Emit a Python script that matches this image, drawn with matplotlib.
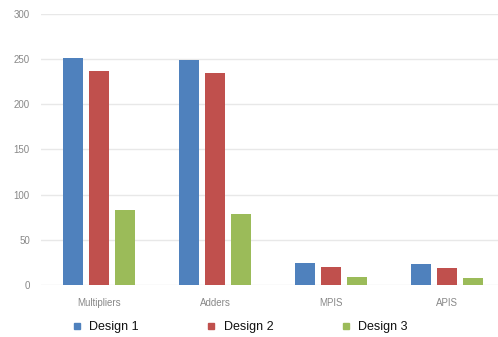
import matplotlib
matplotlib.use("Agg")
import matplotlib.pyplot as plt
from matplotlib.lines import Line2D
import numpy as np

categories = ["Multipliers", "Adders", "MPIS", "APIS"]
series_names = ["Design 1", "Design 2", "Design 3"]
design1 = [251, 249, 24, 23]
design2 = [237, 235, 20, 19]
design3 = [83, 79, 9, 8]
y_ticks = [0, 50, 100, 150, 200, 250, 300]

colors = ["#4F81BD", "#C0504D", "#9BBB59"]

plt.rcParams["font.family"] = ["Liberation Sans", "DejaVu Sans"]

fig = plt.figure(figsize=(4.98, 3.37), dpi=100)
ax = fig.add_axes([41 / 498, 52 / 337, 464 / 498, 271 / 337])

x = np.arange(len(categories))
offsets = [-0.222, 0.0, 0.222]
width = 0.175
for vals, off, col, name in zip([design1, design2, design3], offsets, colors, series_names):
    ax.bar(x + off, vals, width=width, color=col, label=name, zorder=3)

ax.set_xlim(-0.5, len(categories) - 0.5)
ax.set_ylim(0, 300)
ax.set_yticks(y_ticks)
ax.set_xticks(x)
ax.set_xticklabels(categories)
ax.grid(axis="y", color="#e8e8e8", linewidth=1.0, zorder=0)
ax.set_axisbelow(True)
for s in ax.spines.values():
    s.set_visible(False)
ax.tick_params(axis="both", length=0, labelsize=7, labelcolor="#888888")
ax.tick_params(axis="y", pad=8)
ax.tick_params(axis="x", pad=9)

handles = [Line2D([], [], marker="s", linestyle="none", markersize=4.5,
                  markerfacecolor=c, markeredgecolor=c) for c in colors]
leg = fig.legend(handles, series_names, loc="center left", ncol=3,
                 bbox_to_anchor=(59 / 498, 10 / 337), frameon=False,
                 fontsize=9, handletextpad=0.5, columnspacing=5.3,
                 handlelength=1.0)
for t in leg.get_texts():
    t.set_color("#111111")

fig.savefig("out.png", dpi=100)
